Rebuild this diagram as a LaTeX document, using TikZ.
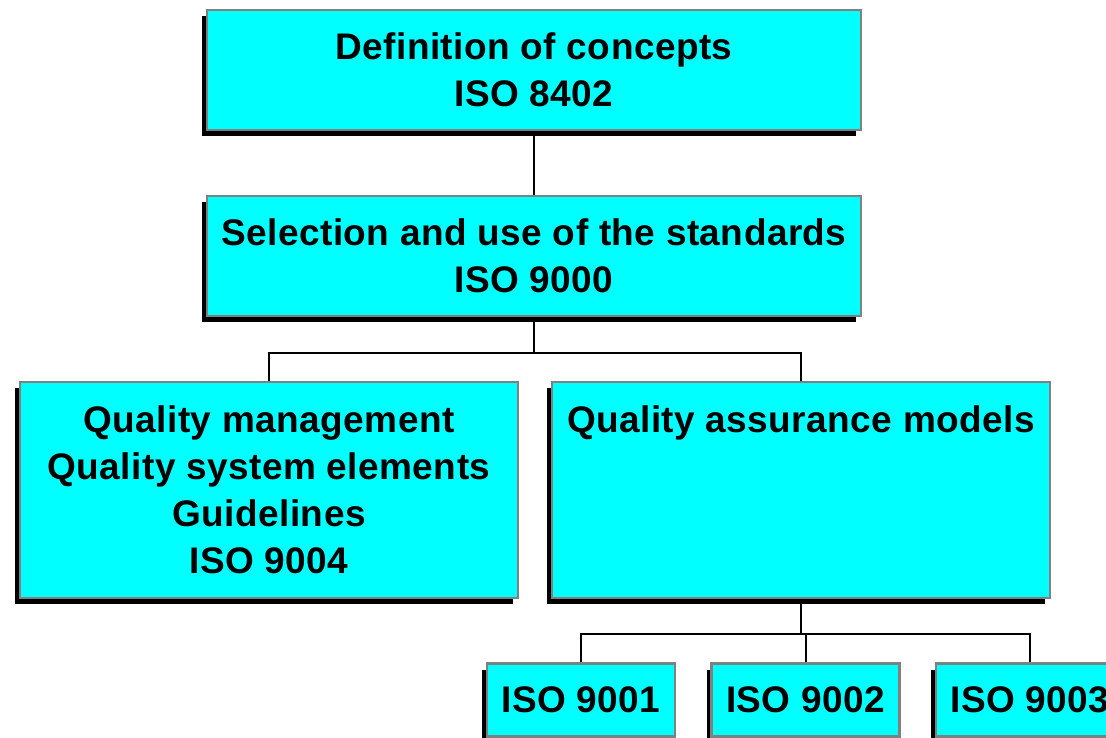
\documentclass[tikz,border=0pt]{standalone}
\usepackage{fontspec}
\setmainfont[LetterSpace=1.2]{Liberation Sans}
\usepackage{tikz}
\usetikzlibrary{shadows}
\definecolor{boxcyan}{RGB}{0,255,255}
\definecolor{boxgray}{RGB}{128,128,128}

\begin{document}
\begin{tikzpicture}[x = 1pt, y = 1pt,
                      box/.style = {rectangle, draw = boxgray, line width = 2.5pt, fill = boxcyan,
                                    inner sep = 0pt, align = center,
                                    font = \fontsize{37}{47}\selectfont\bfseries,
                                    drop shadow = {shadow xshift = -5pt, shadow yshift = -6pt,
                                                   fill = black, opacity = 1}},
                      link/.style = {line width = 2pt, black}]
    \useasboundingbox (0, 0) rectangle (1106, -738);
    \clip (0, 0) rectangle (1106, -738);
    \node [box, minimum width = 654, minimum height = 120] (defs) at (534, -70)
          {Definition of concepts\\ISO 8402};
    \node [box, minimum width = 654, minimum height = 120] (sel) at (534, -256)
          {Selection and use of the standards\\ISO 9000};
    \node [box, minimum width = 498, minimum height = 216] (qm) at (269, -490)
          {Quality management\\Quality system elements\\Guidelines\\ISO 9004};
    \node [box, minimum width = 498, minimum height = 216] (qa) at (801, -490)
          {Quality assurance models\\\mbox{}\\\mbox{}\\\mbox{}};
    \node [box, minimum width = 188, minimum height = 73] (iso1) at (581, -700) {ISO 9001};
    \node [box, minimum width = 188, minimum height = 73] (iso2) at (805.5, -700) {ISO 9002};
    \node [box, minimum width = 188, minimum height = 73] (iso3) at (1030, -700) {ISO 9003};
    \draw [link] (defs) -- (sel);
    \draw [link] (sel.south) -- ++(0, -36) -| (qm.north);
    \draw [link] (sel.south) -- ++(0, -36) -| (qa.north);
    \draw [link] (qa.south) -- ++(0, -35) -| (iso1.north);
    \draw [link] (qa.south) -- ++(0, -35) -| (iso2.north);
    \draw [link] (qa.south) -- ++(0, -35) -| (iso3.north);
\end{tikzpicture}
\end{document}
